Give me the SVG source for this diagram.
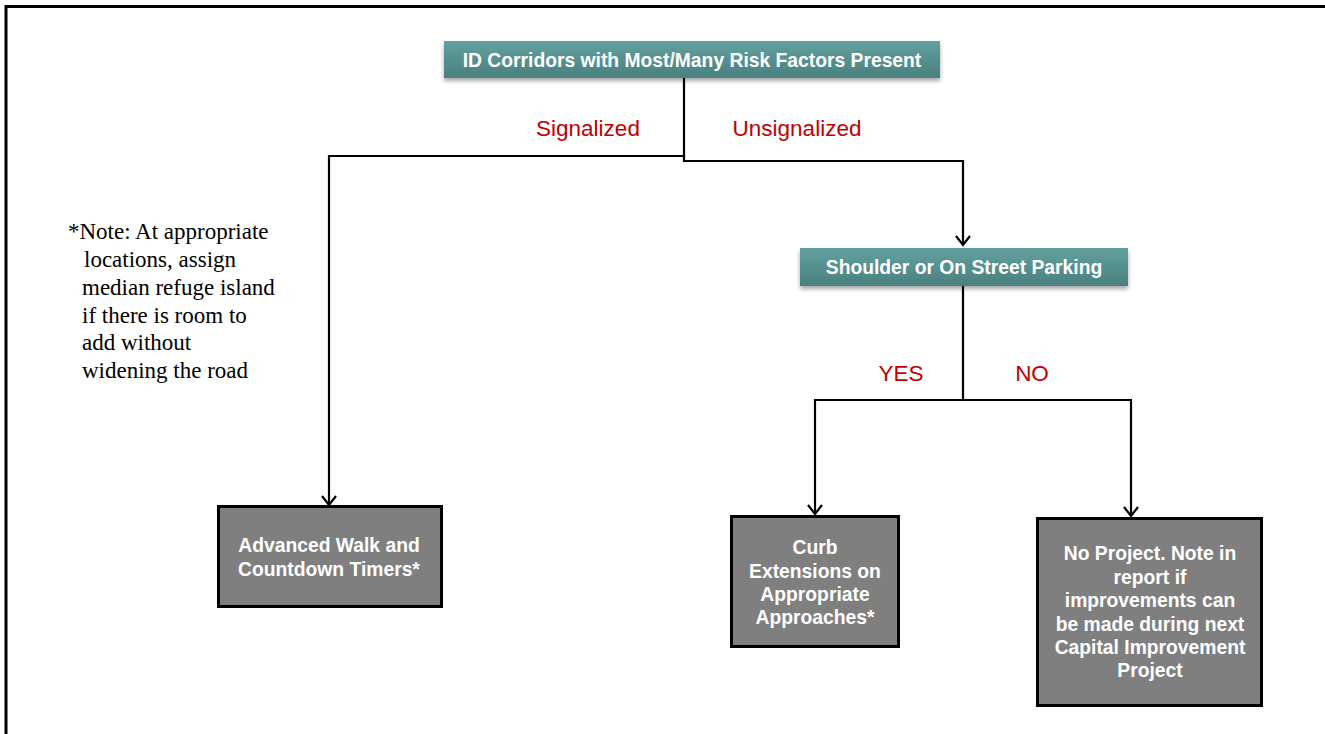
<svg xmlns="http://www.w3.org/2000/svg" width="1325" height="734" viewBox="0 0 1325 734">
<defs>
<linearGradient id="teal" x1="0" y1="0" x2="0" y2="1">
<stop offset="0" stop-color="#62a19f"/>
<stop offset="1" stop-color="#4a807e"/>
</linearGradient>
<filter id="sh" x="-5%" y="-20%" width="110%" height="160%">
<feDropShadow dx="0" dy="3" stdDeviation="2" flood-color="#000" flood-opacity="0.35"/>
</filter>
<marker id="arr" markerWidth="16" markerHeight="16" refX="14" refY="8" orient="auto" markerUnits="userSpaceOnUse" viewBox="0 0 16 16">
<polyline points="5,1 14,8 5,15" fill="none" stroke="#000" stroke-width="2.2"/>
</marker>
<style>
.teal{fill:url(#teal);filter:url(#sh);}
.gray{fill:#7f7f7f;stroke:#000;stroke-width:3;}
.wt{fill:#fff;font-family:"Liberation Sans",Arial,sans-serif;font-weight:bold;font-size:19.3px;text-anchor:middle;}
.red{fill:#c00000;font-family:"Liberation Sans",Arial,sans-serif;font-size:22.5px;text-anchor:middle;}
.note{fill:#000;font-family:"Liberation Serif","Times New Roman",serif;font-size:23px;}
.ln{fill:none;stroke:#000;stroke-width:2.2;}
</style>
</defs>
<rect x="0" y="0" width="1325" height="734" fill="#fff"/>
<path d="M6,734 V6.5 H1325" fill="none" stroke="#000" stroke-width="3"/>

<g id="connectors">
<polyline class="ln" points="684,78 684,156 329,156 329,505" marker-end="url(#arr)"/>
<polyline class="ln" points="684,156 684,161 963,161 963,245" marker-end="url(#arr)"/>
<polyline class="ln" points="963,286 963,400 815,400 815,514" marker-end="url(#arr)"/>
<polyline class="ln" points="963,400 1131,400 1131,516" marker-end="url(#arr)"/>
<text class="red" x="588" y="136">Signalized</text>
<text class="red" x="797" y="136">Unsignalized</text>
<text class="red" x="901" y="381">YES</text>
<text class="red" x="1032" y="381">NO</text>
</g>

<g id="n-top">
<rect class="teal" x="444" y="41" width="496" height="37"/>
<text class="wt" x="692" y="67">ID Corridors with Most/Many Risk Factors Present</text>
</g>

<g id="n-shoulder">
<rect class="teal" x="800" y="248" width="328" height="38"/>
<text class="wt" x="964" y="274">Shoulder or On Street Parking</text>
</g>

<g id="n-advanced">
<rect class="gray" x="218.5" y="506.5" width="223" height="100"/>
<text class="wt" x="329" y="552">Advanced Walk and</text>
<text class="wt" x="329" y="576">Countdown Timers*</text>
</g>

<g id="n-curb">
<rect class="gray" x="731.5" y="516.5" width="167" height="130"/>
<text class="wt" x="815" y="554">Curb</text>
<text class="wt" x="815" y="578">Extensions on</text>
<text class="wt" x="815" y="601">Appropriate</text>
<text class="wt" x="815" y="624">Approaches*</text>
</g>

<g id="n-noproject">
<rect class="gray" x="1037.5" y="518.5" width="224" height="187"/>
<text class="wt" x="1150" y="560">No Project. Note in</text>
<text class="wt" x="1150" y="584">report if</text>
<text class="wt" x="1150" y="607">improvements can</text>
<text class="wt" x="1150" y="631">be made during next</text>
<text class="wt" x="1150" y="654">Capital Improvement</text>
<text class="wt" x="1150" y="677">Project</text>
</g>

<g id="note">
<text class="note" x="68" y="239">*Note: At appropriate</text>
<text class="note" x="84" y="267">locations, assign</text>
<text class="note" x="82" y="295">median refuge island</text>
<text class="note" x="82" y="323">if there is room to</text>
<text class="note" x="82" y="350">add without</text>
<text class="note" x="82" y="378">widening the road</text>
</g>
</svg>
